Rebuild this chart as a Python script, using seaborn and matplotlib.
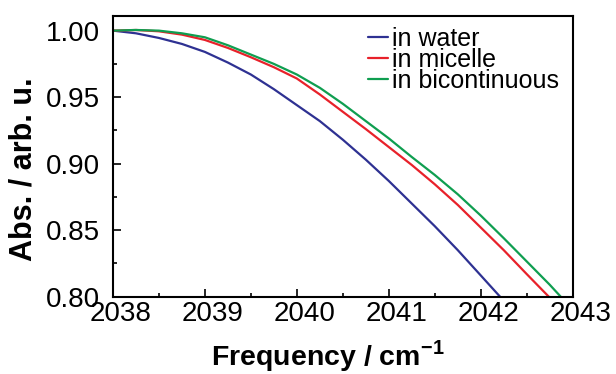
import matplotlib
matplotlib.use("Agg")
import matplotlib.pyplot as plt
import matplotlib.transforms as mtransforms
from matplotlib.ticker import MultipleLocator
import pandas as pd
import seaborn as sns

# datos
freq_water = [2038.00, 2038.25, 2038.50, 2038.75, 2039.00, 2039.25, 2039.50, 2039.75,
              2040.00, 2040.25, 2040.50, 2040.75, 2041.00, 2041.25, 2041.50, 2041.75,
              2042.00, 2042.21]
abs_water = [1.000, 0.998, 0.9945, 0.990, 0.984, 0.976, 0.967, 0.956,
             0.944, 0.932, 0.918, 0.903, 0.887, 0.870, 0.853, 0.835,
             0.816, 0.800]

freq_micelle = [2038.00, 2038.25, 2038.50, 2038.75, 2039.00, 2039.25, 2039.50, 2039.75,
                2040.00, 2040.25, 2040.50, 2040.75, 2041.00, 2041.25, 2041.50, 2041.75,
                2042.00, 2042.25, 2042.50, 2042.74]
abs_micelle = [1.000, 1.0005, 0.9995, 0.997, 0.993, 0.987, 0.980, 0.9725,
               0.964, 0.952, 0.939, 0.926, 0.9125, 0.899, 0.8845, 0.869,
               0.852, 0.835, 0.817, 0.800]

freq_bicont = [2038.00, 2038.25, 2038.50, 2038.75, 2039.00, 2039.25, 2039.50, 2039.75,
               2040.00, 2040.25, 2040.50, 2040.75, 2041.00, 2041.25, 2041.50, 2041.75,
               2042.00, 2042.25, 2042.50, 2042.75, 2042.87]
abs_bicont = [1.000, 1.0005, 1.000, 0.998, 0.995, 0.989, 0.982, 0.975,
              0.967, 0.957, 0.945, 0.932, 0.919, 0.905, 0.8915, 0.877,
              0.861, 0.844, 0.8265, 0.809, 0.800]

etiquetas = ["in water", "in micelle", "in bicontinuous"]
colores = ["#2E3192", "#E8212A", "#0F9E50"]

sns.set_style("ticks")
plt.rcParams["font.family"] = ["Liberation Sans", "DejaVu Sans"]
plt.rcParams["mathtext.fontset"] = "custom"
plt.rcParams["mathtext.rm"] = "Liberation Sans"
plt.rcParams["mathtext.bf"] = "Liberation Sans:bold"
plt.rcParams["text.color"] = "black"
plt.rcParams["axes.labelcolor"] = "black"

df = pd.concat([
    pd.DataFrame({"freq": freq_water, "abs": abs_water, "muestra": etiquetas[0]}),
    pd.DataFrame({"freq": freq_micelle, "abs": abs_micelle, "muestra": etiquetas[1]}),
    pd.DataFrame({"freq": freq_bicont, "abs": abs_bicont, "muestra": etiquetas[2]}),
], ignore_index=True)

fig = plt.figure(figsize=(6.16, 3.74), dpi=100)
ax = fig.add_axes([0.1834, 0.2067, 0.7463, 0.7505])

sns.lineplot(data=df, x="freq", y="abs", hue="muestra", hue_order=etiquetas,
             palette=colores, linewidth=1.6, estimator=None, sort=False, ax=ax)

ax.set_xlim(2038, 2043)
ax.set_ylim(0.80, 1.011)
ax.xaxis.set_major_locator(MultipleLocator(1))
ax.xaxis.set_minor_locator(MultipleLocator(0.5))
ax.yaxis.set_major_locator(MultipleLocator(0.05))
ax.yaxis.set_minor_locator(MultipleLocator(0.025))
ax.yaxis.set_major_formatter(matplotlib.ticker.FormatStrFormatter("%.2f"))

ax.tick_params(which="both", direction="in", top=False, right=False,
               width=1.2, labelsize=20, colors="black")
ax.tick_params(which="major", length=6)
ax.tick_params(which="minor", length=3)
ax.tick_params(axis="y", pad=9)
ax.tick_params(axis="x", pad=3)

for sp in ax.spines.values():
    sp.set_linewidth(1.5)
    sp.set_color("black")

# etiquetas del eje x un poco a la derecha
desplaza = mtransforms.ScaledTranslation(8 / 100, 0, fig.dpi_scale_trans)
for lab in ax.get_xticklabels():
    lab.set_transform(lab.get_transform() + desplaza)

ax.set_xlabel(r"Frequency / cm$^{\mathbf{-1}}$", fontsize=20.5, fontweight="bold")
ax.set_ylabel("Abs. / arb. u.", fontsize=22, fontweight="bold")
ax.xaxis.set_label_coords(0.468, -0.146)
ax.yaxis.set_label_coords(-0.163, 0.455)

handles, labels = ax.get_legend_handles_labels()
ax.legend(handles, labels, loc="upper right", bbox_to_anchor=(0.970, 0.962),
          frameon=False, fontsize=18, handlelength=0.8, handletextpad=0.15,
          labelspacing=-0.12, borderpad=0, borderaxespad=0)

fig.savefig("out.png", dpi=100)
